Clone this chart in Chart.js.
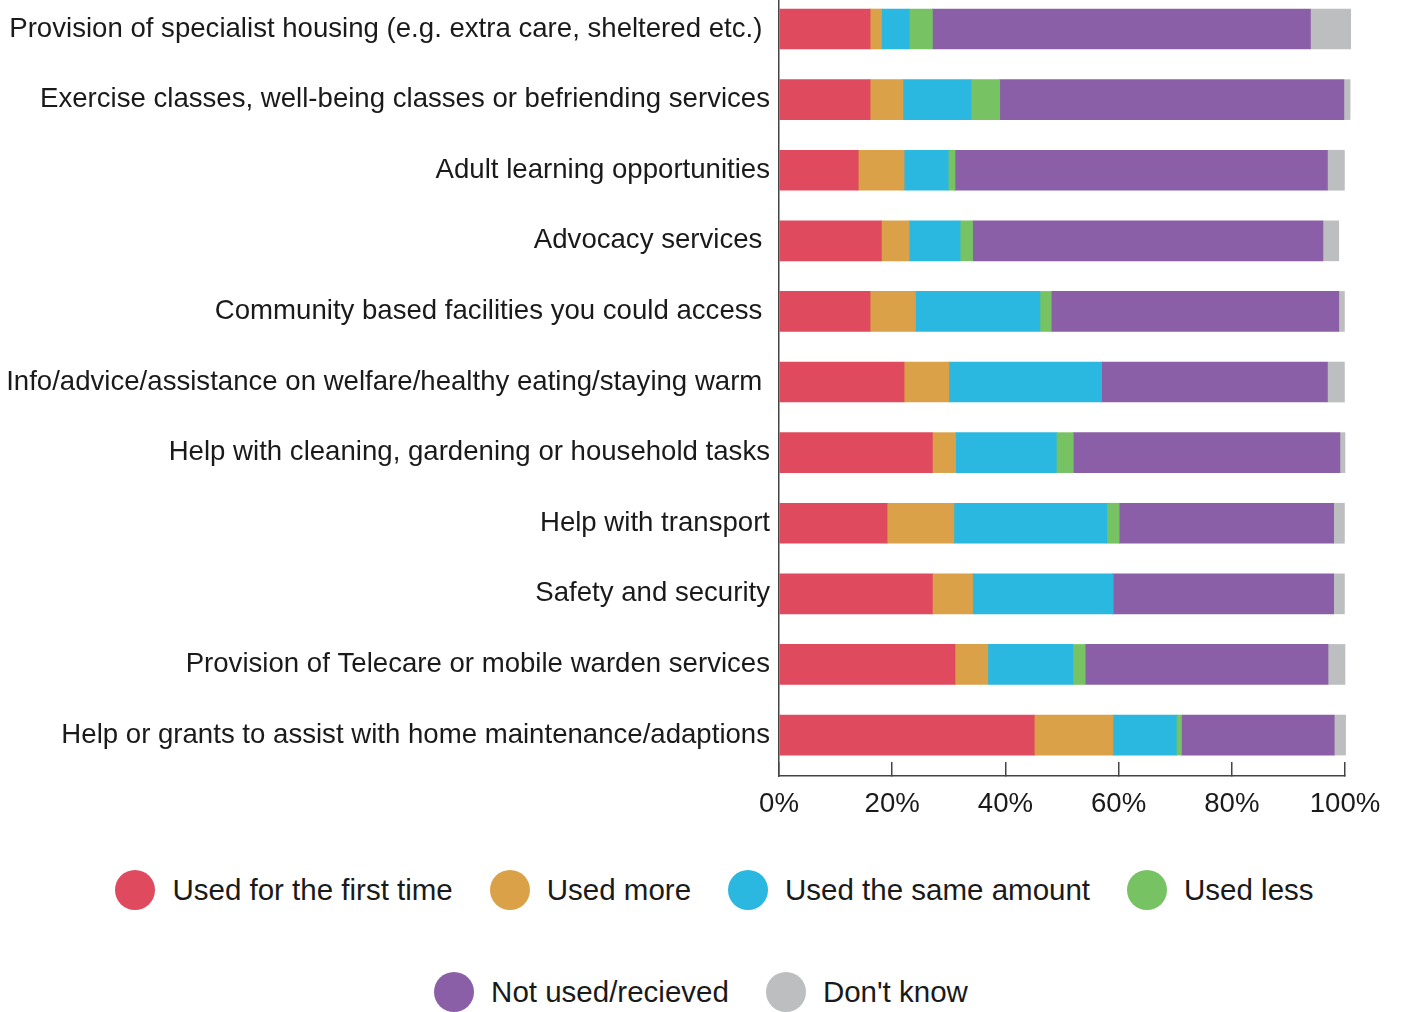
<!DOCTYPE html>
<html>
<head>
<meta charset="utf-8">
<script src="https://cdn.jsdelivr.net/npm/chart.js@4/dist/chart.umd.min.js"></script>
<style>
  html, body { margin: 0; padding: 0; background: #fff; }
  body { width: 1402px; height: 1012px; overflow: hidden; font-family: "Liberation Sans", Arial, sans-serif; }
  #wrap { position: relative; width: 1402px; height: 830px; }
  #legend { width: 1402px; }
  .row { display: flex; justify-content: center; align-items: center; height: 40px; }
  .item { display: flex; align-items: center; margin: 0 18.5px; font-size: 29.5px; color: #1a1a1a; }
  .dot { width: 40px; height: 40px; border-radius: 50%; margin-right: 17px; }
</style>
</head>
<body>
<div id="wrap"><canvas id="chart"></canvas></div>
<div id="legend"></div>
<script>
// Categories, top to bottom
const categories = [
    'Provision of specialist housing (e.g. extra care, sheltered etc.) ',
    'Exercise classes, well-being classes or befriending services',
    'Adult learning opportunities',
    'Advocacy services ',
    'Community based facilities you could access ',
    'Info/advice/assistance on welfare/healthy eating/staying warm ',
    'Help with cleaning, gardening or household tasks',
    'Help with transport',
    'Safety and security',
    'Provision of Telecare or mobile warden services',
    'Help or grants to assist with home maintenance/adaptions'
];

// Series values (%)
const firstTime  = [16.1, 16.1, 14.0, 18.1, 16.1, 22.1, 27.1, 19.1, 27.1, 31.1, 45.1];
const usedMore   = [2.0, 5.8, 8.1, 4.9, 8.0, 7.9, 4.1, 11.8, 7.1, 5.8, 13.9];
const sameAmount = [4.9, 12.0, 7.8, 9.0, 22.0, 27.0, 17.8, 27.0, 24.8, 15.0, 11.2];
const usedLess   = [4.1, 5.1, 1.2, 2.2, 2.0, 0, 3.0, 2.2, 0, 2.2, 0.9];
const notUsed    = [66.8, 60.8, 65.8, 61.9, 50.8, 39.9, 47.1, 37.9, 39.0, 42.9, 27.0];
const dontKnow   = [7.1, 1.1, 3.0, 2.8, 1.0, 3.0, 0.9, 1.9, 1.9, 3.0, 2.0];

const seriesNames = ['Used for the first time', 'Used more', 'Used the same amount', 'Used less', 'Not used/recieved', "Don't know"];
const seriesValues = [firstTime, usedMore, sameAmount, usedLess, notUsed, dontKnow];
const colors = ['#E04A5E', '#DAA148', '#2AB8E0', '#77C263', '#8B5FA7', '#BDBEC0'];

// X axis ticks
const xTicks = [0, 20, 40, 60, 80, 100];

const datasets = seriesNames.map((name, s) => ({
    label: name,
    data: seriesValues[s].map((v, i) => ({ x: v, y: i })),
    backgroundColor: colors[s],
    borderWidth: 0,
    barThickness: 40,
    clip: false
}));

const canvas = document.getElementById('chart');
canvas.width = 1402;
canvas.height = 830;

const labelFont = { family: '"Liberation Sans", Arial, sans-serif', size: 27.6 };

new Chart(canvas.getContext('2d'), {
    type: 'bar',
    data: { datasets: datasets },
    options: {
        indexAxis: 'y',
        responsive: false,
        animation: false,
        layout: { padding: { top: 0, right: 57, bottom: 0, left: 0 } },
        plugins: { legend: { display: false }, tooltip: { enabled: false } },
        scales: {
            x: {
                type: 'linear',
                stacked: true,
                min: 0,
                max: 100,
                border: { display: true, color: '#444', width: 1.5 },
                grid: { drawOnChartArea: false, drawTicks: true, tickLength: -14, color: '#444', lineWidth: 1.5 },
                afterBuildTicks: (scale) => { scale.ticks = xTicks.map(v => ({ value: v })); },
                afterFit: (scale) => {
                    scale.height = 54;
                    scale.paddingLeft = 0;
                    scale.paddingRight = 0;
                },
                ticks: {
                    padding: 26,
                    color: '#1a1a1a',
                    font: labelFont,
                    callback: (v) => v + '%'
                }
            },
            y: {
                type: 'linear',
                stacked: true,
                reverse: true,
                offset: false,
                min: -0.411,
                max: 10.58,
                border: { display: true, color: '#444', width: 1.5 },
                grid: { display: false, drawTicks: false },
                afterBuildTicks: (scale) => { scale.ticks = categories.map((c, i) => ({ value: i })); },
                afterFit: (scale) => {
                    scale.width = 779;
                    scale.paddingTop = 0;
                    scale.paddingBottom = 0;
                },
                ticks: {
                    autoSkip: false,
                    padding: 9,
                    color: '#1a1a1a',
                    font: labelFont,
                    callback: (v) => categories[v]
                }
            }
        }
    }
});

// HTML legend in two rows
const legend = document.getElementById('legend');
const rows = [[0, 1, 2, 3], [4, 5]];
rows.forEach((r, ri) => {
    const row = document.createElement('div');
    row.className = 'row';
    row.style.marginTop = ri === 0 ? '40px' : '62px';
    if (ri === 0) row.style.paddingLeft = '27px';
    r.forEach(s => {
        const item = document.createElement('div');
        item.className = 'item';
        const dot = document.createElement('span');
        dot.className = 'dot';
        dot.style.background = colors[s];
        const txt = document.createElement('span');
        txt.textContent = seriesNames[s];
        item.appendChild(dot);
        item.appendChild(txt);
        row.appendChild(item);
    });
    legend.appendChild(row);
});
</script>
</body>
</html>
